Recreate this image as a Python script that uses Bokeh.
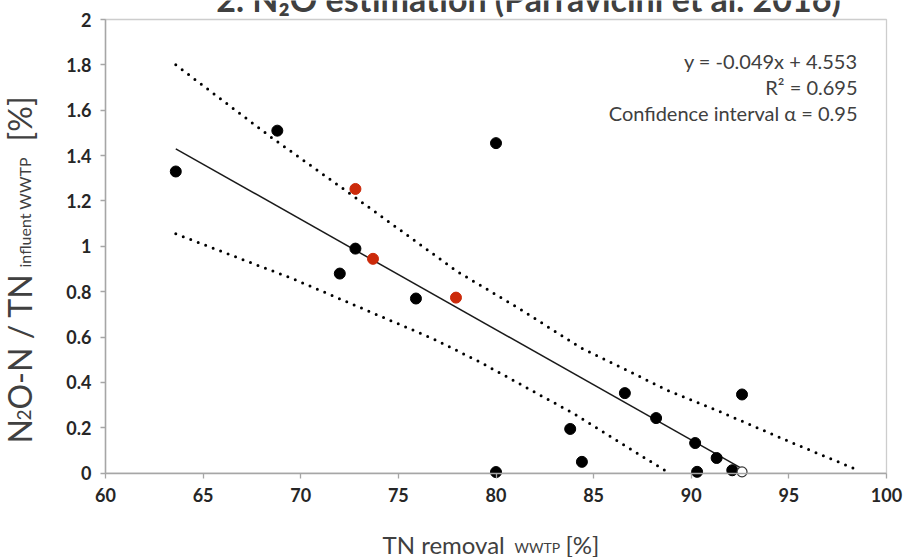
from bokeh.plotting import figure
from bokeh.models import Label, BoxAnnotation, FixedTicker
from bokeh.embed import file_html
from bokeh.resources import INLINE
import math

# ---- data ----
black_x = [63.6, 68.8, 80.0, 72.8, 72.0, 75.9, 86.6, 88.2, 83.8, 84.4, 80.0, 90.2, 90.3, 91.3, 92.1, 92.6]
black_y = [1.33, 1.51, 1.455, 0.99, 0.88, 0.77, 0.353, 0.243, 0.195, 0.05, 0.005, 0.133, 0.006, 0.067, 0.013, 0.347]
red_x = [72.8, 73.7, 77.95]
red_y = [1.253, 0.945, 0.774]
open_x = [92.6]
open_y = [0.006]

fit_x = [63.6, 92.6]
fit_y = [1.43, 0.02]

upper_x = [63.6, 68.5, 72.4, 74.0, 78.0, 81.3, 84.3, 88.8, 91.5, 94.9, 98.5]
upper_y = [1.80, 1.48, 1.24, 1.14, 0.89, 0.72, 0.555, 0.365, 0.27, 0.144, 0.015]
lower_x = [63.6, 69.6, 76.8, 79.2, 84.0, 88.8]
lower_y = [1.055, 0.857, 0.592, 0.489, 0.262, 0.004]

x_ticks = [60, 65, 70, 75, 80, 85, 90, 95, 100]
y_ticks = [0, 0.2, 0.4, 0.6, 0.8, 1, 1.2, 1.4, 1.6, 1.8, 2]
y_tick_labels = ["0", "0.2", "0.4", "0.6", "0.8", "1", "1.2", "1.4", "1.6", "1.8", "2"]

eq_lines = ["y = -0.049x + 4.553", "R² = 0.695", "Confidence interval α = 0.95"]
title_text = "2. N₂O estimation (Parravicini et al. 2016)"

FONT = "Lato"
TXT = "#404040"
AX = "#a6a6a6"

# pixel geometry of the plotting area inside the 909x557 picture
W, H = 909, 557
LEFT_PX, RIGHT_PX, TOP_PX, BOTTOM_PX = 105, 886, 19, 472.7
XMIN, XMAX, YMIN, YMAX = x_ticks[0], x_ticks[-1], y_ticks[0], y_ticks[-1]
sx = (RIGHT_PX - LEFT_PX) / (XMAX - XMIN)
sy = (BOTTOM_PX - TOP_PX) / (YMAX - YMIN)

def px2x(px):
    return XMIN + (px - LEFT_PX) / sx

def py2y(py):
    return YMIN + (BOTTOM_PX - py) / sy

p = figure(width=W, height=H, x_range=(px2x(0), px2x(W)), y_range=(py2y(H), py2y(0)),
           output_backend="svg", toolbar_location=None,
           min_border_left=0, min_border_right=0, min_border_top=0, min_border_bottom=0)
p.outline_line_color = None
p.xgrid.visible = False
p.ygrid.visible = False
p.background_fill_color = "white"

p.xaxis.ticker = FixedTicker(ticks=x_ticks)
p.yaxis.ticker = FixedTicker(ticks=y_ticks)
p.yaxis.major_label_overrides = {t: l for t, l in zip(y_ticks, y_tick_labels)}
p.xaxis.fixed_location = YMIN
p.yaxis.fixed_location = XMIN
p.xaxis.bounds = (XMIN, XMAX)
p.yaxis.bounds = (YMIN, YMAX)
for ax in (p.xaxis, p.yaxis):
    ax.axis_line_color = AX
    ax.axis_line_width = 1.5
    ax.major_tick_line_color = AX
    ax.major_tick_line_width = 1.3
    ax.major_tick_in = 0
    ax.major_tick_out = 5
    ax.minor_tick_line_color = None
    ax.major_label_text_font = FONT
    ax.major_label_text_font_style = "bold"
    ax.major_label_text_font_size = "18px"
    ax.major_label_text_color = "#262626"
p.xaxis.major_label_standoff = 10
p.yaxis.major_label_standoff = 9

# chart-area border (left/bottom covered by the grey axes)
border = BoxAnnotation(left=XMIN, right=XMAX, bottom=YMIN, top=YMAX, fill_color=None,
                       line_color="#595959", line_width=1.3, level="underlay")
p.add_layout(border)

# confidence bands (dotted)
p.line(upper_x, upper_y, line_color="black", line_width=3, line_dash="0 8", line_cap="round")
p.line(lower_x, lower_y, line_color="black", line_width=3, line_dash="0 8", line_cap="round")
# regression
p.line(fit_x, fit_y, line_color="#1a1a1a", line_width=1.5)

p.scatter(black_x, black_y, size=11, fill_color="black", line_color="black")
p.scatter(red_x, red_y, size=11, fill_color="#cc2a0a", line_color="#cc2a0a")
p.scatter(open_x, open_y, size=10, fill_color="white", line_color="#333333", line_width=1.2)

def lab(x, y, text, size, **kw):
    p.add_layout(Label(x=x, y=y, text=text, text_baseline="middle", text_font=FONT,
                       text_font_size=f"{size}px", text_color=TXT, **kw))

# equation annotation
for t, py in zip(eq_lines, [60, 86, 112]):
    lab(px2x(857), py2y(py), t, 20, text_align="right")

# title (cut by the top of the picture)
TS = 34
lab(px2x(528), py2y(8 - 0.3 * TS), title_text, TS, text_align="center", text_font_style="bold")

# x axis label composed of pieces (common baseline)
XB, XS, XBASE = 24, 14, 551
lab(px2x(382), py2y(XBASE - 0.3 * XB), "TN removal", XB, text_align="left")
lab(px2x(514), py2y(XBASE - 0.3 * XS), "WWTP", XS, text_align="left")
lab(px2x(565), py2y(XBASE - 0.3 * XB), "[%]", XB, text_align="left")

# y axis label composed of pieces (rotated; common baseline at x=29 px)
YB, YS, YBASE = 32, 16, 29
pieces = [("N", 443, YB), ("2", 420, 19), ("O-N / TN", 409, YB),
          ("influent WWTP", 267, YS), ("[%]", 141, YB)]
for t, start, fs in pieces:
    lab(px2x(YBASE - 0.3 * fs), py2y(start), t, fs, angle=math.pi / 2, text_align="left")

open("out.html", "w").write(file_html(p, INLINE))
